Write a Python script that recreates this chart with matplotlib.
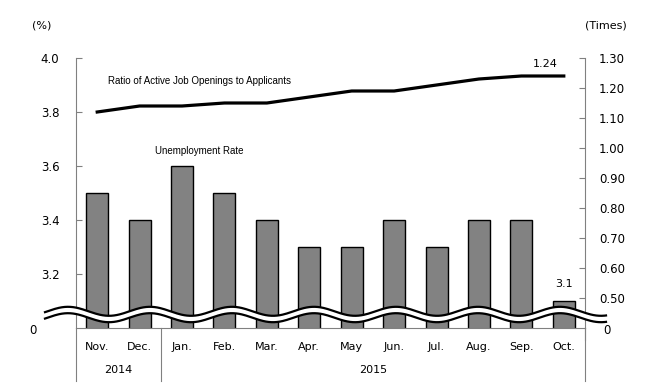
import numpy as np
import matplotlib
matplotlib.use("Agg")
import matplotlib.pyplot as plt
from matplotlib.patches import Polygon
from matplotlib.lines import Line2D
import matplotlib.transforms as mtransforms

months = ["Nov.", "Dec.", "Jan.", "Feb.", "Mar.", "Apr.", "May", "Jun.", "Jul.", "Aug.", "Sep.", "Oct."]
years = ["2014", "2015"]
year_spans = [(0, 1), (2, 11)]
unemployment = [3.5, 3.4, 3.6, 3.5, 3.4, 3.3, 3.3, 3.4, 3.3, 3.4, 3.4, 3.1]
ratio = [1.12, 1.14, 1.14, 1.15, 1.15, 1.17, 1.19, 1.19, 1.21, 1.23, 1.24, 1.24]
left_ticks = [3.2, 3.4, 3.6, 3.8, 4.0]
right_ticks = [0.50, 0.60, 0.70, 0.80, 0.90, 1.00, 1.10, 1.20, 1.30]

W, H = 650, 384
fig = plt.figure(figsize=(6.5, 3.84), dpi=100)
L, R, T, B = 76, 585, 58, 328
ax = fig.add_axes([L / W, 1 - B / H, (R - L) / W, (B - T) / H])
ax2 = ax.twinx()

x = np.arange(len(months))
ax.bar(x, unemployment, width=0.52, color="#828282", edgecolor="black", linewidth=1.0, zorder=2)
ax.set_ylim(3.0, 4.0)
ax.set_xlim(-0.5, len(months) - 0.5)
ax2.set_ylim(0.40, 1.30)
ax2.plot(x, ratio, color="black", linewidth=2.3, zorder=3)

fs = 8.5
ax.set_yticks(left_ticks)
ax.set_yticklabels([f"{v:.1f}" for v in left_ticks], fontsize=fs)
ax2.set_yticks(right_ticks)
ax2.set_yticklabels([f"{v:.2f}" for v in right_ticks], fontsize=fs)
ax.tick_params(axis="y", direction="in", length=4, pad=12, color="#808080")
ax2.tick_params(axis="y", direction="in", length=4, pad=10, color="#808080")

ax.set_xticks(x)
ax.set_xticklabels(months, fontsize=8)
ax.tick_params(axis="x", length=0, pad=10)

for a in (ax, ax2):
    a.spines["top"].set_visible(False)
    for s in ("left", "right", "bottom"):
        a.spines[s].set_color("#808080")
ax.spines["right"].set_visible(False)
ax2.spines["left"].set_visible(False)
ax2.spines["bottom"].set_visible(False)

# year row with separators
trans = mtransforms.blended_transform_factory(ax.transData, fig.transFigure)
for (a0, a1), yr in zip(year_spans, years):
    ax.text((a0 + a1) / 2, 1 - 370 / H, yr, transform=trans, ha="center", va="center", fontsize=8)
for xb in [-0.5, 1.5, len(months) - 0.5]:
    fig.add_artist(Line2D([xb, xb], [1 - B / H, 1 - 381 / H], transform=trans, color="#808080", lw=0.8))
fig.add_artist(Line2D([R / W, R / W], [1 - B / H, 1 - 340 / H], color="#808080", lw=0.8))

# "0" labels at the base
fig.text(33 / W, 1 - 331 / H, "0", ha="center", va="center", fontsize=fs)
fig.text(607 / W, 1 - 331 / H, "0", ha="center", va="center", fontsize=fs)
fig.text(42 / W, 1 - 26 / H, "(%)", ha="center", va="center", fontsize=8)
fig.text(606 / W, 1 - 26 / H, "(Times)", ha="center", va="center", fontsize=8)

# annotations
ax2.text(2.42, 1.223, "Ratio of Active Job Openings to Applicants", ha="center", va="center",
         fontsize=7, family="Liberation Sans")
ax.text(2.4, 3.656, "Unemployment Rate", ha="center", va="center", fontsize=7, family="Liberation Sans")
ax2.text(10.56, 1.28, f"{ratio[-1]:.2f}", ha="center", va="center", fontsize=8)
ax.text(11, unemployment[-1] + 0.045, f"{unemployment[-1]:.1f}", ha="center", va="bottom", fontsize=8)

# wavy break
xs = np.linspace(45, 606, 400)
yc = 314.5 - 4.5 * np.cos(2 * np.pi * (xs - 150) / 82)
up = yc - 3.2
lo = yc + 3.2
poly_pts = np.column_stack([np.concatenate([xs, xs[::-1]]) / W,
                            1 - np.concatenate([up, lo[::-1]]) / H])
fig.add_artist(Polygon(poly_pts, closed=True, transform=fig.transFigure, facecolor="white",
                       edgecolor="none", zorder=10))
fig.add_artist(Line2D(xs / W, 1 - up / H, transform=fig.transFigure, color="black", lw=1.6, zorder=11))
fig.add_artist(Line2D(xs / W, 1 - lo / H, transform=fig.transFigure, color="black", lw=1.6, zorder=11))

fig.savefig("out.png", dpi=100)
